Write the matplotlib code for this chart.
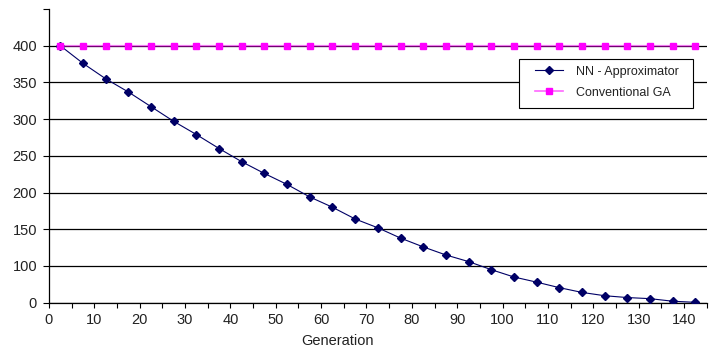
import numpy as np
import matplotlib
matplotlib.use("Agg")
import matplotlib.pyplot as plt
from matplotlib.patches import Rectangle
from matplotlib.lines import Line2D

plt.rcParams['font.family'] = ['Liberation Sans', 'DejaVu Sans']

# Data: fitness per generation for the two optimisers
generations = [2.5, 7.5, 12.5, 17.5, 22.5, 27.5, 32.5, 37.5, 42.5, 47.5,
               52.5, 57.5, 62.5, 67.5, 72.5, 77.5, 82.5, 87.5, 92.5, 97.5,
               102.5, 107.5, 112.5, 117.5, 122.5, 127.5, 132.5, 137.5, 142.5]
nn_approximator = [400, 376, 355, 337, 317, 297, 279, 260, 242, 226,
                   211, 194, 180, 164, 152, 138, 126, 115, 106, 90,
                   70, 56, 41, 28, 19, 14, 11, 4, 1]
conventional_ga = [400] * len(generations)

x_ticks = list(range(0, 141, 10))
x_minor = list(range(5, 146, 10))
y_ticks = [0, 100, 150, 200, 250, 300, 350, 400]
series_labels = ["NN - Approximator", "Conventional GA"]
x_label = "Generation"


# Vertical axis: 0-100 spans one step, every 50 above 100 spans one step
def fwd(v):
    v = np.asarray(v, dtype=float)
    return np.where(v <= 100, v / 100.0, 1 + (v - 100) / 50.0)


def inv(p):
    p = np.asarray(p, dtype=float)
    return np.where(p <= 1, p * 100.0, 100 + (p - 1) * 50.0)


fig = plt.figure(figsize=(7.16, 3.48), dpi=100)
ax = fig.add_axes([0.0684, 0.1302, 0.9186, 0.8439])
ax.set_yscale('function', functions=(fwd, inv))

nn_color = '#000066'
ga_line = (1, 0, 1, 0.45)
ga_mark = (1, 0, 1, 1)

ax.plot(generations, nn_approximator, color=nn_color, lw=0.8, marker='D',
        markersize=3.8, markerfacecolor=nn_color, markeredgecolor=nn_color,
        zorder=3)
ax.plot(generations, conventional_ga, color=ga_line, lw=1.6,
        marker='s', markersize=4.6, markerfacecolor=ga_mark,
        markeredgecolor=ga_mark, zorder=3)

ax.set_xlim(0, 145)
ax.set_ylim(0, 450)

ax.set_xticks(x_ticks)
ax.set_xticks(x_minor, minor=True)
ax.set_yticks(y_ticks)
ax.set_yticklabels([str(t) for t in y_ticks])
ax.set_yticks([450], minor=True)
ax.yaxis.set_minor_formatter(plt.NullFormatter())

ax.tick_params(axis='x', which='both', direction='out', length=3.8,
               width=0.8, color='black', labelsize=10.5, pad=3.5,
               labelcolor='#222222')
ax.tick_params(axis='y', which='both', direction='out', length=4.4,
               width=0.8, color='black', labelsize=10.5, pad=4.2,
               labelcolor='#222222')

ax.yaxis.grid(True, which='major', color='black', lw=0.9)
ax.set_axisbelow(True)

for side in ('top', 'right'):
    ax.spines[side].set_visible(False)
for side in ('left', 'bottom'):
    ax.spines[side].set_color('black')
    ax.spines[side].set_linewidth(0.9)

ax.set_xlabel(x_label, fontsize=10.5, color='#222222')
ax.xaxis.label.set_va('baseline')
ax.xaxis.set_label_coords(0.438, -0.144)

# Legend with a square black frame
frame = Rectangle((0.714, 0.663), 0.265, 0.167, transform=ax.transAxes,
                  facecolor='white', edgecolor='black', lw=0.8, zorder=4)
ax.add_patch(frame)
handles = [
    Line2D([], [], color=nn_color, lw=0.8, marker='D', markersize=3.8,
           markerfacecolor=nn_color, markeredgecolor=nn_color),
    Line2D([], [], color=(1, 0, 1, 0.6), lw=1.2, marker='s', markersize=4.6,
           markerfacecolor=ga_mark, markeredgecolor=ga_mark),
]
leg = ax.legend(handles, series_labels, loc='upper left',
                bbox_to_anchor=(0.739, 0.807), frameon=False, fontsize=9,
                handlelength=2.2, handletextpad=1.1, labelspacing=0.72,
                borderpad=0, borderaxespad=0)
leg.set_zorder(5)
for t in leg.get_texts():
    t.set_color('#222222')

fig.savefig("out.png", dpi=100, facecolor='white')
